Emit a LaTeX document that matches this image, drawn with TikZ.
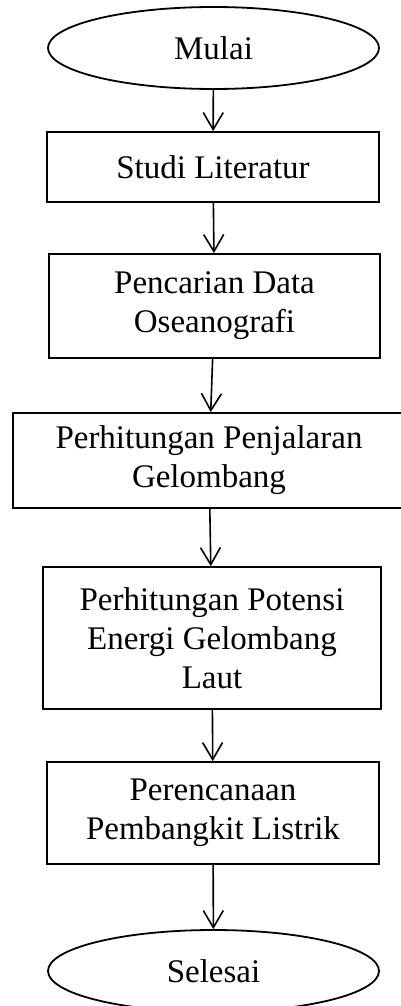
\documentclass[tikz,border=0pt]{standalone}
\usepackage{fontspec}
\setmainfont{Liberation Serif}
\usetikzlibrary{shapes.geometric,arrows.meta}

\begin{document}
\begin{tikzpicture}[x=0.5pt,y=-0.5pt,
    box/.style={draw, line width=0.9pt, align=center, inner sep=0pt,
        font=\fontsize{16.5}{19.5}\selectfont},
    oval/.style={ellipse, draw, line width=0.9pt, inner sep=0pt,
        font=\fontsize{16.5}{19.5}\selectfont},
    arr/.style={-{Straight Barb[length=8.5pt,width=10pt]}, line width=0.8pt}]
    \useasboundingbox (0,0) rectangle (401,1006);
    \node[oval, minimum width=165.5pt, minimum height=41pt] (mulai) at (213.5,48) {Mulai};
    \node[box, minimum width=166pt, minimum height=35pt] (studi) at (213,167) {Studi Literatur};
    \node[box, minimum width=165.5pt, minimum height=52pt] (data) at (214.5,306) {Pencarian Data\\Oseanografi};
    \node[box, minimum width=196pt, minimum height=47.5pt] (penjalaran) at (209,460.5) {Perhitungan Penjalaran\\Gelombang};
    \node[box, minimum width=169pt, minimum height=71pt] (potensi) at (212,638) {Perhitungan Potensi\\Energi Gelombang\\Laut};
    \node[box, minimum width=166pt, minimum height=51pt] (rencana) at (213,813) {Perencanaan\\Pembangkit Listrik};
    \node[oval, minimum width=165.5pt, minimum height=41pt] (selesai) at (213.5,971) {Selesai};
    \draw[arr] (mulai) -- (studi);
    \draw[arr] (studi) -- (data);
    \draw[arr] (data) -- (penjalaran);
    \draw[arr] (penjalaran) -- (potensi);
    \draw[arr] (potensi) -- (rencana);
    \draw[arr] (rencana) -- (selesai);
\end{tikzpicture}
\end{document}
